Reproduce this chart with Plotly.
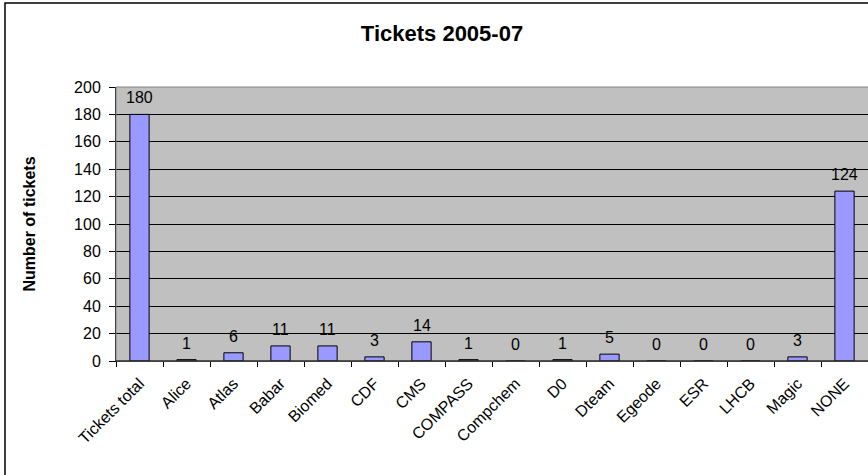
import plotly.graph_objects as go

categories = ["Tickets total", "Alice", "Atlas", "Babar", "Biomed", "CDF", "CMS",
              "COMPASS", "Compchem", "D0", "Dteam", "Egeode", "ESR", "LHCB",
              "Magic", "NONE"]
tickets = [180, 1, 6, 11, 11, 3, 14, 1, 0, 1, 5, 0, 0, 0, 3, 124]
y_ticks = [0, 20, 40, 60, 80, 100, 120, 140, 160, 180, 200]

FONT = "Liberation Sans, Arial, sans-serif"

fig = go.Figure()
fig.add_trace(go.Bar(
    x=categories, y=tickets, width=0.41,
    marker=dict(color="#9999FF", line=dict(color="#000000", width=1)),
    hoverinfo="x+y",
))

for c, v in zip(categories, tickets):
    fig.add_annotation(x=c, y=v, text=str(v), showarrow=False,
                       yanchor="bottom", yshift=6,
                       font=dict(family=FONT, size=16, color="#000000"))

fig.update_layout(
    width=868, height=475,
    margin=dict(l=116, r=0, t=87, b=114),
    paper_bgcolor="#FFFFFF", plot_bgcolor="#C0C0C0",
    showlegend=False, bargap=0.59,
    font=dict(family=FONT, size=16, color="#000000"),
    title=dict(text="<b>Tickets 2005-07</b>", x=442/868, xanchor="center",
               y=1 - 33/475, yanchor="middle", xref="container", yref="container",
               font=dict(family=FONT, size=22, color="#000000")),
    xaxis=dict(type="category", range=[-0.5, 15.5], tickangle=-45,
               ticks="outside", tickson="boundaries", ticklen=5, tickcolor="#000000",
               ticklabelstandoff=6,
               showline=True, linecolor="#000000", linewidth=1,
               showgrid=False, tickfont=dict(family=FONT, size=16)),
    yaxis=dict(range=[0, 200], tickvals=y_ticks, ticks="outside", ticklen=6,
               tickcolor="#000000", showline=True, linecolor="#000000", linewidth=1,
               ticklabelstandoff=5,
               showgrid=True, gridcolor="#000000", gridwidth=1, zeroline=False,
               tickfont=dict(family=FONT, size=16),
               title=dict(text="<b>Number of tickets</b>", standoff=34,
                          font=dict(family=FONT, size=16))),
    shapes=[
        dict(type="rect", xref="paper", yref="paper", x0=0, x1=1.02, y0=0, y1=1,
             line=dict(color="#808080", width=1), fillcolor="rgba(0,0,0,0)", layer="above"),
        dict(type="line", xref="paper", yref="y", x0=0, x1=1, y0=0, y1=0,
             line=dict(color="#000000", width=1), layer="above"),
        dict(type="rect", xref="paper", yref="paper",
             x0=(5 - 116) / 752, x1=(880 - 116) / 752,
             y0=-(480 - 361) / 274, y1=(361 - 3) / 274,
             line=dict(color="#000000", width=1.5), fillcolor="rgba(0,0,0,0)"),
    ],
)

fig.write_html("out.html")
